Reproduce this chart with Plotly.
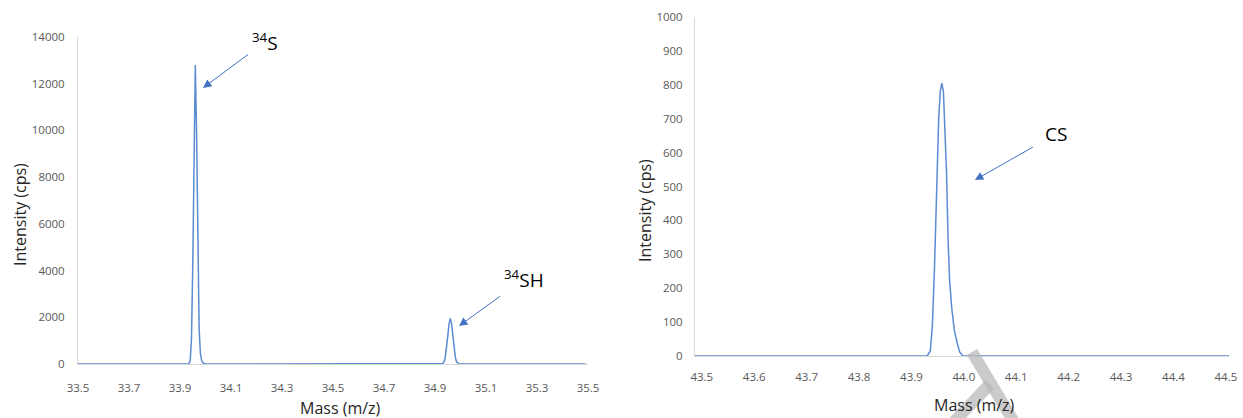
import plotly.graph_objects as go

# ---- left spectrum: m/z 33.5 - 35.5 ----
left_mass = [33.500, 33.930, 33.935, 33.940, 33.945, 33.950, 33.955, 33.960,
             33.965, 33.970, 33.975, 33.980, 33.985, 33.990, 33.995, 34.000,
             34.930, 34.935, 34.940, 34.945, 34.950, 34.955, 34.960, 34.965,
             34.970, 34.975, 34.980, 34.985, 34.990, 34.995, 35.490]
left_intensity = [0, 0, 10, 150, 1050, 4200, 9700, 12800,
                  9900, 4600, 1500, 450, 150, 50, 15, 0,
                  22, 85, 265, 630, 1180, 1720, 1950, 1720,
                  1180, 630, 265, 85, 22, 0, 0]

# ---- right spectrum: m/z 43.5 - 44.5 ----
right_mass = [43.487, 43.930, 43.936, 43.940, 43.944, 43.948, 43.952, 43.955,
              43.958, 43.961, 43.964, 43.967, 43.970, 43.973, 43.977, 43.982,
              43.987, 43.992, 43.998, 44.506]
right_intensity = [0, 0, 15, 90, 260, 480, 700, 780,
                   805, 780, 680, 540, 340, 220, 140, 75,
                   40, 12, 0, 0]

left_xticks = [33.5, 33.7, 33.9, 34.1, 34.3, 34.5, 34.7, 34.9, 35.1, 35.3, 35.5]
left_yticks = [0, 2000, 4000, 6000, 8000, 10000, 12000, 14000]
right_xticks = [43.5, 43.6, 43.7, 43.8, 43.9, 44.0, 44.1, 44.2, 44.3, 44.4, 44.5]
right_yticks = [0, 100, 200, 300, 400, 500, 600, 700, 800, 900, 1000]

# peak labels and the points their arrows touch
peak_labels = ["<sup>34</sup>S", "<sup>34</sup>SH", "CS"]
arrow_mass = [33.990, 34.994, 44.021]
arrow_intensity = [11820, 1627, 519]

W, H = 1243, 418
LINE = "#5B8BD2"
ARROW = "#4472C4"
AXIS = "#D9D9D9"
TICKFONT = dict(family="Open Sans", size=11.5, color="#595959")
TITLEFONT = dict(family="Open Sans", size=16, color="#262626")
LABELFONT = dict(family="Open Sans", size=19, color="#000000")


def px(x):
    return x / W


def py(y):
    return 1 - y / H


fig = go.Figure()
fig.add_trace(go.Scatter(x=left_mass, y=left_intensity, mode="lines",
                         line=dict(color=LINE, width=1.5),
                         xaxis="x", yaxis="y", showlegend=False))
fig.add_trace(go.Scatter(x=right_mass, y=right_intensity, mode="lines",
                         line=dict(color=LINE, width=1.5),
                         xaxis="x2", yaxis="y2", showlegend=False))

common = dict(showgrid=False, zeroline=False, showline=True, linecolor=AXIS,
              linewidth=1, ticks="", tickfont=TICKFONT)

fig.update_layout(
    width=W, height=H,
    margin=dict(l=0, r=0, t=0, b=0, autoexpand=False),
    paper_bgcolor="white", plot_bgcolor="white",
    xaxis=dict(domain=[px(78), px(588)], range=[33.5, 35.5], anchor="y",
               tickvals=left_xticks, ticktext=[f"{v:.1f}" for v in left_xticks],
               ticklabelstandoff=13, **common),
    yaxis=dict(domain=[py(364), py(37)], range=[0, 14000], anchor="x",
               tickvals=left_yticks, tickformat="d", ticklabelstandoff=10, **common),
    xaxis2=dict(domain=[px(695), px(1229)], range=[43.487, 44.506], anchor="y2",
                tickvals=right_xticks, ticktext=[f"{v:.1f}" for v in right_xticks],
                ticklabelstandoff=10, **common),
    yaxis2=dict(domain=[py(356), py(17)], range=[0, 1000], anchor="x2",
                tickvals=right_yticks, tickformat="d", ticklabelstandoff=9, **common),
)

annotations = [
    # axis titles
    dict(text="Mass (m/z)", xref="paper", yref="paper", x=px(340), y=py(408),
         showarrow=False, font=TITLEFONT, xanchor="center", yanchor="middle"),
    dict(text="Intensity (cps)", xref="paper", yref="paper", x=px(20), y=py(215),
         showarrow=False, font=TITLEFONT, textangle=-90,
         xanchor="center", yanchor="middle"),
    dict(text="Mass (m/z)", xref="paper", yref="paper", x=px(974), y=py(405),
         showarrow=False, font=TITLEFONT, xanchor="center", yanchor="middle"),
    dict(text="Intensity (cps)", xref="paper", yref="paper", x=px(645), y=py(211),
         showarrow=False, font=TITLEFONT, textangle=-90,
         xanchor="center", yanchor="middle"),
]

# labelled arrows pointing at the peaks (text offset in pixels from the tip)
label_refs = [("x", "y"), ("x", "y"), ("x2", "y2")]
label_offsets = [(62, -46), (65, -47), (81, -46)]
label_gaps = [3, 3, 12]
for text, m, i, (xr, yr), (ax, ay), gap in zip(peak_labels, arrow_mass, arrow_intensity,
                                               label_refs, label_offsets, label_gaps):
    annotations.append(dict(text=text, x=m, y=i, xref=xr, yref=yr, showarrow=True,
                            ax=ax, ay=ay, font=LABELFONT, arrowhead=2, arrowsize=1.7,
                            arrowwidth=1, arrowcolor=ARROW, startstandoff=gap))

fig.update_layout(annotations=annotations)

# faint grey stamp near the lower right axis
stamp = dict(type="line", xref="paper", yref="paper",
             line=dict(color="rgba(185,185,185,0.75)", width=12), layer="above")
fig.add_shape(x0=px(972), y0=py(352), x1=px(1014), y1=py(422), **stamp)
fig.add_shape(x0=px(954), y0=py(422), x1=px(990), y1=py(384), **stamp)

fig.write_html("out.html")
